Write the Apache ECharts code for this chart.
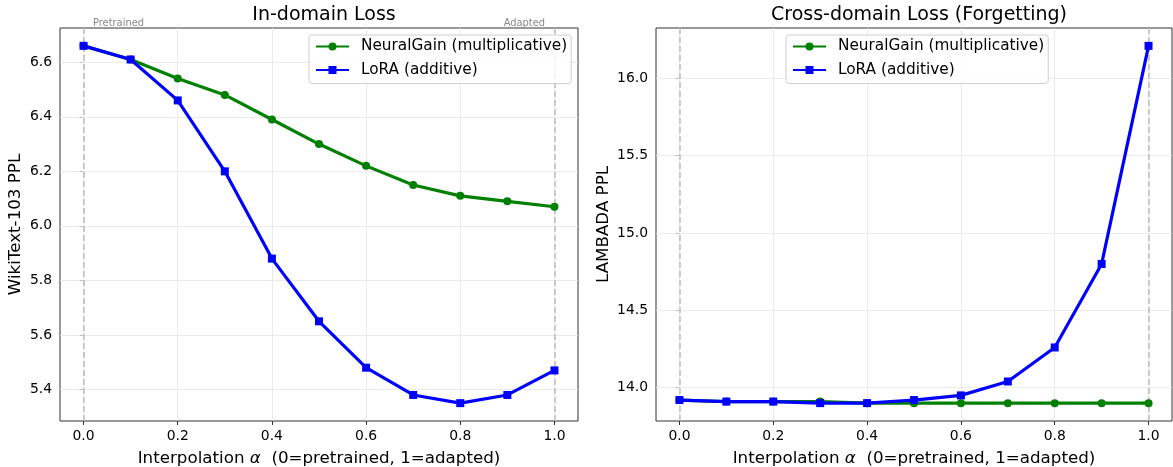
<!DOCTYPE html>
<html><head><meta charset="utf-8">
<script src="https://cdn.jsdelivr.net/npm/echarts@6/dist/echarts.min.js"></script>
<style>html,body{margin:0;padding:0;background:#fff}#c{width:1173px;height:467px}</style>
</head><body><div id="c"></div>
<script>
const alphas = [0, 0.1, 0.2, 0.3, 0.4, 0.5, 0.6, 0.7, 0.8, 0.9, 1.0];
const inNeuralGain = [6.66, 6.61, 6.54, 6.48, 6.39, 6.30, 6.22, 6.15, 6.11, 6.09, 6.07];
const inLoRA = [6.66, 6.61, 6.46, 6.20, 5.88, 5.65, 5.48, 5.38, 5.35, 5.38, 5.47];
const crossNeuralGain = [13.92, 13.91, 13.91, 13.91, 13.90, 13.90, 13.90, 13.90, 13.90, 13.90, 13.90];
const crossLoRA = [13.92, 13.91, 13.91, 13.90, 13.90, 13.92, 13.95, 14.04, 14.26, 14.80, 16.21];
const xTicks = [0, 0.2, 0.4, 0.6, 0.8, 1.0];
const inYTicks = [5.4, 5.6, 5.8, 6.0, 6.2, 6.4, 6.6];
const crossYTicks = [14.0, 14.5, 15.0, 15.5, 16.0];
const seriesNames = ['NeuralGain (multiplicative)', 'LoRA (additive)'];
const endLabels = ['Pretrained', 'Adapted'];

const FONT = 'DejaVu Sans';
function lim(arrs) {
  const all = [].concat(...arrs);
  const mn = Math.min(...all), mx = Math.max(...all), r = mx - mn;
  return [mn - 0.05 * r, mx + 0.05 * r];
}
const xLim = [-0.05, 1.05];
const inLim = lim([inNeuralGain, inLoRA]);
const crossLim = lim([crossNeuralGain, crossLoRA]);

function xAxis(gi) {
  return {
    type: 'value', gridIndex: gi, min: xLim[0], max: xLim[1],
    name: '{n|Interpolation }{a|α}{n|  (0=pretrained, 1=adapted)}',
    nameLocation: 'middle', nameGap: 29,
    nameTextStyle: { rich: { n: { fontFamily: FONT, fontSize: 16.7, color: '#000' }, a: { fontFamily: FONT, fontSize: 16.7, fontStyle: 'italic', color: '#000' } } },
    axisLine: { show: false },
    axisTick: { show: true, length: 4, customValues: xTicks, lineStyle: { color: '#000', width: 0.8 } },
    axisLabel: { customValues: xTicks, formatter: v => v.toFixed(1), fontFamily: FONT, fontSize: 13.9, color: '#000', margin: 8 },
    splitLine: { show: false }
  };
}
function yAxis(gi, l, ticks, name, gap) {
  return {
    type: 'value', gridIndex: gi, min: l[0], max: l[1],
    name: name, nameLocation: 'middle', nameGap: gap,
    nameTextStyle: { fontFamily: FONT, fontSize: 16.7, color: '#000' },
    axisLine: { show: false },
    axisTick: { show: true, length: 4, customValues: ticks, lineStyle: { color: '#000', width: 0.8 } },
    axisLabel: { customValues: ticks, formatter: v => v.toFixed(1), fontFamily: FONT, fontSize: 13.9, color: '#000', margin: 8 },
    splitLine: { show: false }
  };
}
function gridSeries(gi, yTicks) {
  const data = [];
  xTicks.forEach(v => data.push({ xAxis: v }));
  yTicks.forEach(v => data.push({ yAxis: v }));
  return {
    type: 'line', xAxisIndex: gi, yAxisIndex: gi, data: [], z: 1, silent: true,
    markLine: { z: 1, silent: true, symbol: ['none', 'none'], label: { show: false },
      lineStyle: { color: '#e6e6e6', type: 'solid', width: 0.8 }, data: data, animation: false }
  };
}
function dashSeries(gi, yl, withLabels) {
  const s = {
    type: 'line', xAxisIndex: gi, yAxisIndex: gi, data: [], z: 1, silent: true,
    markLine: { z: 1, silent: true, symbol: ['none', 'none'], label: { show: false },
      lineStyle: { color: '#bcbcbc', type: [6, 3], width: 1.5 }, data: [{ xAxis: alphas[0] }, { xAxis: alphas[alphas.length - 1] }], animation: false }
  };
  if (withLabels) {
    s.markPoint = {
      symbol: 'circle', symbolSize: 0, silent: true, animation: false,
      data: [
        { coord: [0.02, yl[1]], value: endLabels[0], label: { align: 'left' } },
        { coord: [0.98, yl[1]], value: endLabels[1], label: { align: 'right' } }
      ],
      label: { show: true, position: 'inside', verticalAlign: 'bottom', formatter: p => p.value, color: '#888', fontFamily: FONT, fontSize: 9.9, offset: [0, 0] }
    };
  }
  return s;
}
function dataSeries(gi, ys, idx) {
  const green = idx === 0;
  return {
    name: seriesNames[idx], type: 'line', xAxisIndex: gi, yAxisIndex: gi, z: 3 + idx,
    data: alphas.map((a, i) => [a, ys[i]]),
    symbol: green ? 'circle' : 'rect', symbolSize: 8, showSymbol: true,
    lineStyle: { width: 3.2, color: green ? '#008000' : '#0000ff' },
    itemStyle: { color: green ? '#008000' : '#0000ff' },
    animation: false
  };
}
function legend(opts) {
  return Object.assign({
    orient: 'vertical', itemWidth: 33, itemHeight: 10, itemGap: 8.5,
    padding: [4, 4, 6, 6],
    borderColor: '#d0d0d0', borderWidth: 1, borderRadius: 3, backgroundColor: 'rgba(255,255,255,0.8)',
    textStyle: { fontFamily: FONT, fontSize: 15.3, color: '#000', padding: [0, 0, 0, 7] },
    data: seriesNames
  }, opts);
}

const chart = echarts.init(document.getElementById('c'), null, { renderer: 'canvas' });
chart.setOption({
  backgroundColor: '#fff',
  animation: false,
  title: [
    { text: 'In-domain Loss', left: 319, top: 1, textAlign: 'center', textStyle: { fontFamily: FONT, fontSize: 19, fontWeight: 'normal', color: '#000' } },
    { text: 'Cross-domain Loss (Forgetting)', left: 914, top: 1, textAlign: 'center', textStyle: { fontFamily: FONT, fontSize: 19, fontWeight: 'normal', color: '#000' } }
  ],
  grid: [
    { left: 60, top: 28, width: 518, height: 393, outerBoundsMode: 'none', containLabel: false, show: true, borderColor: '#333', borderWidth: 1, backgroundColor: 'transparent' },
    { left: 656, top: 28, width: 516, height: 393, outerBoundsMode: 'none', containLabel: false, show: true, borderColor: '#333', borderWidth: 1, backgroundColor: 'transparent' }
  ],
  xAxis: [xAxis(0), xAxis(1)],
  yAxis: [yAxis(0, inLim, inYTicks, 'WikiText-103 PPL', 36), yAxis(1, crossLim, crossYTicks, 'LAMBADA PPL', 43.5)],
  legend: [
    legend({ left: 309, top: 35 }),
    legend({ left: 786, top: 35 })
  ],
  series: [
    gridSeries(0, inYTicks), gridSeries(1, crossYTicks),
    dashSeries(0, inLim, true), dashSeries(1, crossLim, false),
    dataSeries(0, inNeuralGain, 0), dataSeries(0, inLoRA, 1),
    dataSeries(1, crossNeuralGain, 0), dataSeries(1, crossLoRA, 1)
  ]
});
</script></body></html>
